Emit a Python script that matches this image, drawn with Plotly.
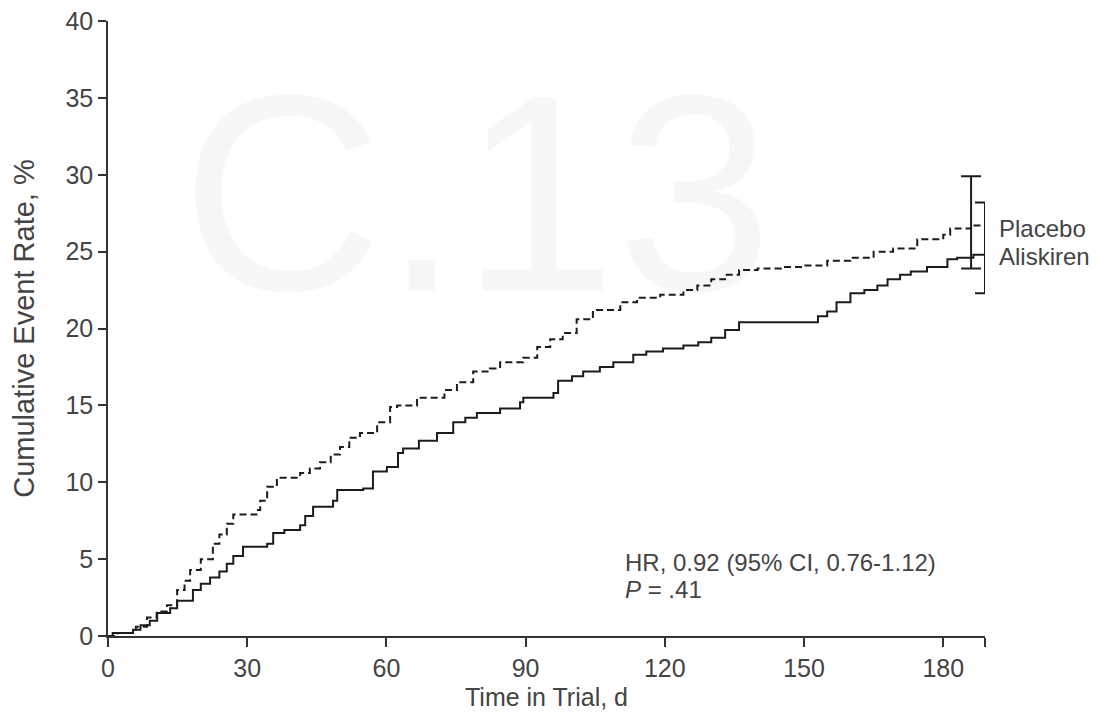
import plotly.graph_objects as go

# ---- data ----
placebo_days = [0, 2, 6, 8.4, 10.5, 12.7, 14.9, 16.5, 17.7, 20, 22.6, 24, 25.6, 27, 32, 32.8, 34.3,
                36.4, 41.4, 43.5, 45.7, 48, 50, 52, 54.3, 58, 60.8, 62.3, 66.6, 70, 72.5, 75.2, 78.7,
                82.3, 84.5, 89.5, 92.5, 95.3, 98, 101, 104.5, 108.2, 110.4, 114, 119, 124, 127, 130,
                133, 136, 140, 145, 150, 155, 160, 165, 169.2, 174.4, 180, 181.5, 186, 189]
placebo_rate = [0, 0.2, 0.6, 1.2, 1.6, 2.0, 3.0, 3.6, 4.3, 5.0, 6.0, 6.6, 7.3, 7.9, 8.2, 8.8, 9.7,
                10.3, 10.6, 10.9, 11.3, 11.8, 12.3, 12.9, 13.2, 13.9, 14.9, 15.0, 15.5, 15.5, 16.0, 16.5, 17.2,
                17.4, 17.8, 18.1, 18.8, 19.3, 19.7, 20.6, 21.2, 21.2, 21.7, 22.0, 22.2, 22.5, 22.8, 23.2,
                23.5, 23.8, 23.9, 24.0, 24.1, 24.4, 24.6, 25.0, 25.2, 25.8, 26.1, 26.5, 26.7, 26.7]

aliskiren_days = [0, 1, 5.4, 7, 9, 10.6, 13.4, 14.9, 18.3, 20, 22, 24, 25.6, 27, 29.1, 34.3, 35.6,
                  38, 41.4, 42.5, 44.2, 48.5, 49.4, 55, 57.1, 60.1, 62.5, 63.6, 67, 70.9, 74.4, 77,
                  79.5, 84.5, 88.8, 89.5, 96, 97, 100, 102.4, 106, 108.9, 113.2, 116, 119.6, 124,
                  127.2, 130, 133, 136, 150, 153, 155, 157, 160, 163, 165.8, 168, 170.7, 173,
                  176.5, 180.9, 183, 186.5, 189]
aliskiren_rate = [0, 0.2, 0.4, 0.7, 1.0, 1.5, 1.8, 2.3, 3.0, 3.4, 3.8, 4.2, 4.7, 5.2, 5.8, 6.0, 6.7,
                  6.9, 7.2, 7.8, 8.4, 8.8, 9.5, 9.6, 10.7, 11.0, 11.9, 12.2, 12.7, 13.2, 13.9, 14.2,
                  14.5, 14.8, 15.2, 15.5, 15.8, 16.6, 16.9, 17.2, 17.5, 17.8, 18.3, 18.5, 18.7, 18.9,
                  19.1, 19.4, 19.9, 20.4, 20.4, 20.8, 21.1, 21.7, 22.3, 22.5, 22.8, 23.2, 23.5, 23.7,
                  24.0, 24.5, 24.6, 24.8, 24.8]

groups = ["Placebo", "Aliskiren"]
ci_day = [186, 189]
ci_mid = [26.7, 24.8]
ci_upper = [29.9, 28.2]
ci_lower = [23.9, 22.3]

x_ticks = [0, 30, 60, 90, 120, 150, 180, 189]
x_tick_text = ["0", "30", "60", "90", "120", "150", "180", ""]
y_ticks = [0, 5, 10, 15, 20, 25, 30, 35, 40]

hr_text = "HR, 0.92 (95% CI, 0.76-1.12)"
p_text = "<i>P</i> = .41"

LINE = "#1c1c1c"
TXT = "#444444"
FONT = "Liberation Sans, Arial, sans-serif"

fig = go.Figure()

fig.add_trace(go.Scatter(x=placebo_days, y=placebo_rate, mode="lines", line_shape="hv",
                         line=dict(color=LINE, width=2, dash="7px,4px"), name="Placebo",
                         showlegend=False, hoverinfo="skip"))
fig.add_trace(go.Scatter(x=aliskiren_days, y=aliskiren_rate, mode="lines", line_shape="hv",
                         line=dict(color=LINE, width=2), name="Aliskiren",
                         showlegend=False, hoverinfo="skip"))

fig.add_trace(go.Scatter(
    x=ci_day, y=ci_mid, mode="markers",
    marker=dict(size=1, color="rgba(0,0,0,0)"),
    error_y=dict(type="data", symmetric=False,
                 array=[u - m for u, m in zip(ci_upper, ci_mid)],
                 arrayminus=[m - l for m, l in zip(ci_mid, ci_lower)],
                 color=LINE, thickness=2, width=10),
    showlegend=False, hoverinfo="skip"))

annotations = []
for g, m in zip(groups, [26.5, 24.7]):
    annotations.append(dict(x=189, y=m, xref="x", yref="y", text=g, showarrow=False,
                            xanchor="left", yanchor="middle", xshift=12,
                            font=dict(family=FONT, size=24, color=TXT)))
annotations.append(dict(x=111, y=4.75, xref="x", yref="y", text=hr_text, showarrow=False,
                        xanchor="left", yanchor="middle",
                        font=dict(family=FONT, size=24, color=TXT)))
annotations.append(dict(x=111, y=3.0, xref="x", yref="y", text=p_text, showarrow=False,
                        xanchor="left", yanchor="middle",
                        font=dict(family=FONT, size=24, color=TXT)))
# faint watermark
annotations.append(dict(x=0.42, y=0.72, xref="paper", yref="paper", text="C.13", showarrow=False,
                        xanchor="center", yanchor="middle",
                        font=dict(family=FONT, size=280, color="rgba(0,0,0,0.03)")))

fig.update_layout(
    width=1097, height=711,
    margin=dict(l=100, r=120, t=13, b=83),
    paper_bgcolor="white", plot_bgcolor="rgba(0,0,0,0)",
    font=dict(family=FONT, size=24, color=TXT),
    annotations=annotations,
    showlegend=False,
)
fig.update_xaxes(range=[0, 189], tickvals=x_ticks, ticktext=x_tick_text,
                 showgrid=False, zeroline=False, showline=True, linecolor="#333", linewidth=1.5,
                 ticks="outside", ticklen=9, tickwidth=1.5, tickcolor="#333",
                 tickfont=dict(family=FONT, size=25, color=TXT),
                 ticklabeloverflow="allow",
                 title=dict(text="Time in Trial, d", font=dict(family=FONT, size=25, color=TXT),
                            standoff=8),
                 automargin=False)
fig.update_yaxes(range=[0, 40], tickvals=y_ticks,
                 showgrid=False, zeroline=False, showline=True, linecolor="#333", linewidth=1.5,
                 ticks="outside", ticklen=8, tickwidth=1.5, tickcolor="#333",
                 tickfont=dict(family=FONT, size=25, color=TXT),
                 ticklabeloverflow="allow",
                 title=dict(text="Cumulative Event Rate, %", font=dict(family=FONT, size=29, color=TXT),
                            standoff=28),
                 automargin=False)

fig.write_html("out.html")
